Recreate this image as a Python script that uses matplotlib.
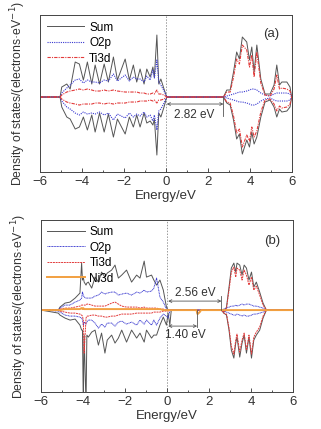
import numpy as np
import matplotlib
matplotlib.use("Agg")
import matplotlib.pyplot as plt
from matplotlib.ticker import MultipleLocator

plt.rcParams['font.family'] = ['Liberation Sans', 'DejaVu Sans']

# ---------------- panel (a) ----------------
a_vb_E = [-5.05, -4.97, -4.73, -4.57, -4.33, -4.13, -3.94, -3.75, -3.54, -3.38, -3.17, -2.95, -2.75, -2.51, -2.32,
          -1.95, -1.75, -1.56, -1.40, -1.24, -1.05, -0.92, -0.76, -0.63, -0.56, -0.44, -0.35, -0.25, -0.10, 0.03]
a_sum_up_vb = [0, 10, 13, 8, 35, 33, 17, 35, 13, 32, 13, 33, 15, 40, 17, 38, 17, 32, 15, 28, 13, 28, 20, 30, 20, 62, 13, 18, 8, 0]
a_sum_dn_vb = [0, -10, -20, -22, -32, -30, -20, -33, -18, -35, -16, -35, -17, -40, -22, -37, -20, -30, -18, -30, -16, -26, -24, -28, -22, -58, -16, -20, -10, 0]
a_o2p_up_vb = [0, 4, 9, 12, 17, 18, 14, 17, 15, 15, 14, 17, 16, 23, 16, 22, 16, 20, 18, 18, 15, 21, 17, 27, 19, 37, 15, 12, 6, 0]
a_o2p_dn_vb = [0, -4, -10, -12, -16, -18, -15, -17, -16, -17, -15, -18, -16, -23, -17, -21, -16, -20, -17, -19, -15, -20, -18, -24, -18, -33, -14, -12, -6, 0]
a_ti_up_vb = [0, 2, 5, 6, 7, 8, 7, 8, 7, 6, 6, 7, 6, 7, 6, 5, 5, 5, 5, 4, 4, 3, 3, 4, 3, 7, 3, 3, 2, 0]
a_ti_dn_vb = [0, -2, -5, -6, -7, -8, -7, -7, -7, -6, -6, -7, -6, -7, -6, -6, -5, -5, -5, -4, -4, -4, -3, -4, -3, -6, -3, -3, -2, 0]

a_cb_E = [2.73, 2.89, 3.05, 3.21, 3.36, 3.49, 3.63, 3.84, 3.97, 4.08, 4.19, 4.32, 4.51, 4.71, 4.95,
          5.14, 5.27, 5.40, 5.51, 5.75, 5.90, 5.98]
a_sum_up_cb = [0, 7, 7, 25, 45, 38, 60, 55, 37, 50, 25, 52, 18, 3, 3, 12, 32, 12, 15, 15, 10, 0]
a_sum_dn_cb = [0, -6, -8, -23, -42, -37, -57, -43, -50, -35, -47, -40, -20, -5, -3, -10, -20, -12, -15, -14, -10, 0]
a_ti_up_cb = [0, 5, 5, 20, 38, 33, 52, 47, 30, 42, 20, 45, 14, 2, 1, 8, 22, 8, 9, 8, 6, 0]
a_ti_dn_cb = [0, -5, -6, -19, -36, -32, -50, -38, -44, -30, -40, -34, -15, -3, -2, -7, -14, -9, -11, -10, -7, 0]
a_o2p_up_cb = [0, 1, 2, 3, 4, 5, 5, 6, 7, 8, 8, 7, 4, 2, 1, 3, 4, 4, 4, 4, 3, 0]
a_o2p_dn_cb = [0, -1, -2, -3, -4, -5, -5, -6, -7, -8, -8, -7, -4, -2, -1, -3, -4, -4, -4, -4, -3, 0]

# ---------------- panel (b) ----------------
b_vb_E = [-5.18, -5.10, -4.86, -4.62, -4.38, -4.15, -4.07, -4.03, -3.99, -3.95, -3.86, -3.82, -3.75, -3.59, -3.43,
          -3.27, -3.12, -2.96, -2.85, -2.64, -2.48, -2.32, -2.16, -1.93, -1.69, -1.45, -1.29, -1.09, -0.98, -0.74,
          -0.63, -0.50, -0.34, -0.18, -0.03, 0.05, 0.13, 0.20]
b_sum_up_vb = [0, 3, 7, 8, 12, 17, 47, 30, 33, 28, 25, 27, 28, 22, 33, 28, 38, 33, 37, 40, 45, 32, 35, 40, 28, 35, 32,
               49, 33, 35, 30, 25, 30, 20, 3, 0, 0, 0]
b_sum_dn_vb = [-3, -5, -8, -10, -9, -15, -20, -20, -95, -25, -95, -25, -27, -22, -20, -35, -23, -43, -30, -25, -33, -28,
               -20, -32, -20, -28, -23, -32, -20, -28, -25, -25, -15, -7, -15, -3, -15, 0]
b_o2p_up_vb = [0, 2, 5, 5, 8, 10, 12, 18, 15, 13, 12, 12, 12, 12, 14, 15, 18, 16, 17, 18, 18, 15, 16, 17, 15, 18, 17,
               20, 18, 19, 22, 32, 13, 8, 1, 0, 0, 0]
b_o2p_dn_vb = [-1, -2, -5, -6, -6, -7, -8, -10, -15, -12, -14, -12, -10, -10, -13, -18, -14, -17, -13, -13, -16, -12,
               -11, -14, -12, -15, -10, -14, -10, -15, -10, -15, -8, -4, -6, -8, -1, 0]
b_ti_up_vb = [0, 1, 2, 2, 3, 4, 5, 5, 5, 5, 5, 6, 6, 5, 4, 4, 4, 4, 5, 7, 8, 6, 4, 3, 3, 3, 2, 3, 2, 2, 2, 2, 1, 1, 0, 0, 0, 0]
b_ti_dn_vb = [0, -1, -2, -3, -3, -4, -5, -6, -10, -43, -8, -6, -6, -5, -5, -6, -6, -7, -7, -6, -6, -5, -4, -4, -4, -3,
              -3, -3, -3, -3, -2, -2, -2, -1, -1, -1, 0, 0]
b_ni_vb = [0, 0, 1, 1, 1, 1, 2, 1, 2, 1, 1, 1, 1, 1, 1, 1, 1, 1, 1, 1, 1, 1, 1, 1, 1, 1, 1, 1, 1, 1, 1, 1, 1, 0, 0, 0, 0, 0]

b_gap_E = [1.40, 1.45, 1.55, 1.62]
b_gap_dn = [0, -4, -2, 0]

b_cb_E = [2.59, 2.70, 2.83, 2.95, 3.06, 3.18, 3.27, 3.33, 3.46, 3.57, 3.67, 3.78, 3.90, 4.02, 4.13, 4.25, 4.41, 4.57, 4.73]
b_sum_up_cb = [0, -2, 3, 23, 42, 47, 38, 47, 45, 35, 45, 42, 30, 38, 23, 28, 18, 7, 0]
b_sum_dn_cb = [0, -3, -5, -20, -40, -48, -33, -27, -47, -33, -25, -43, -27, -48, -30, -25, -20, -8, 0]
b_ti_up_cb = [0, -2, 2, 20, 38, 43, 33, 42, 40, 30, 40, 35, 25, 33, 20, 24, 15, 5, 0]
b_ti_dn_cb = [0, -3, -4, -18, -36, -44, -30, -24, -42, -30, -23, -40, -25, -44, -27, -22, -17, -6, 0]
b_o2p_up_cb = [0, 1, 2, 3, 4, 4, 5, 4, 5, 6, 5, 6, 6, 5, 4, 4, 3, 2, 0]
b_o2p_dn_cb = [0, -1, -2, -3, -4, -5, -5, -4, -5, -6, -5, -6, -6, -5, -4, -4, -3, -2, 0]

C_SUM = '#555555'
C_O2P = '#3a3ad0'
C_TI = '#e23a3a'
C_NI = '#f2a040'


def full(parts_E, parts_v):
    E = np.concatenate([[-6.0]] + [np.asarray(p, float) for p in parts_E] + [[6.0]])
    v = np.concatenate([[0.0]] + [np.asarray(p, float) for p in parts_v] + [[0.0]])
    return E, v


def style(ax, ylim, tag):
    ax.set_xlim(-6, 6)
    ax.set_ylim(*ylim)
    ax.xaxis.set_major_locator(MultipleLocator(2))
    ax.xaxis.set_minor_locator(MultipleLocator(1))
    ax.tick_params(axis='x', which='both', direction='in', labelsize=9.5, colors='#333333', width=0.6, pad=3)
    ax.tick_params(axis='x', which='major', length=3)
    ax.tick_params(axis='x', which='minor', length=1.8)
    ax.set_yticks([])
    for s in ax.spines.values():
        s.set_color('#444444')
        s.set_linewidth(0.7)
    ax.axvline(0, color='#999999', ls=(0, (1.5, 1.5)), lw=0.7, zorder=0)
    ax.set_xlabel('Energy/eV', fontsize=9.5, color='#333333', labelpad=1)
    ax.set_ylabel('Density of states/(electrons\u00b7eV$^{-1}$)', fontsize=8.8, color='#333333', labelpad=9)
    ax.text(0.95, 0.88, tag, transform=ax.transAxes, ha='right', va='center', fontsize=9.5, color='#333333')


fig = plt.figure(figsize=(3.21, 4.29), dpi=100)
ax1 = fig.add_axes([0.125, 0.599, 0.785, 0.366])
ax2 = fig.add_axes([0.128, 0.086, 0.785, 0.401])

# panel (a)
for up, dn, col, ls, lw, lab in [
        ((a_sum_up_vb, a_sum_up_cb), (a_sum_dn_vb, a_sum_dn_cb), C_SUM, '-', 0.7, 'Sum'),
        ((a_o2p_up_vb, a_o2p_up_cb), (a_o2p_dn_vb, a_o2p_dn_cb), C_O2P, (0, (1, 1)), 0.8, 'O2p'),
        ((a_ti_up_vb, a_ti_up_cb), (a_ti_dn_vb, a_ti_dn_cb), C_TI, (0, (3, 1, 1, 1)), 0.8, 'Ti3d')]:
    E, v = full([a_vb_E, a_cb_E], up)
    ax1.plot(E, v, color=col, ls=ls, lw=lw, label=lab)
    E, v = full([a_vb_E, a_cb_E], dn)
    ax1.plot(E, v, color=col, ls=ls, lw=lw)
style(ax1, (-75, 82), '(a)')
ax1.legend(loc='upper left', frameon=False, fontsize=8.5, handlelength=3.2, handletextpad=0.4,
           borderaxespad=0.15, labelspacing=0.3)
ax1.annotate('', xy=(0.03, -7), xytext=(2.73, -7),
             arrowprops=dict(arrowstyle='<->', color='#555555', lw=0.6, mutation_scale=5, shrinkA=0, shrinkB=0))
ax1.plot([2.73, 2.73], [0, -19], color='#555555', lw=0.6)
ax1.text(1.35, -12, '2.82 eV', ha='center', va='top', fontsize=8.5, color='#333333')

# panel (b)
zeros_gap = [0] * len(b_gap_E)
for up, dn, col, ls, lw, lab in [
        ((b_sum_up_vb, zeros_gap, b_sum_up_cb), (b_sum_dn_vb, b_gap_dn, b_sum_dn_cb), C_SUM, '-', 0.7, 'Sum'),
        ((b_o2p_up_vb, zeros_gap, b_o2p_up_cb), (b_o2p_dn_vb, zeros_gap, b_o2p_dn_cb), C_O2P, (0, (1, 0.6)), 0.7, 'O2p'),
        ((b_ti_up_vb, zeros_gap, b_ti_up_cb), (b_ti_dn_vb, b_gap_dn, b_ti_dn_cb), C_TI, (0, (2, 0.8)), 0.7, 'Ti3d')]:
    E, v = full([b_vb_E, b_gap_E, b_cb_E], up)
    ax2.plot(E, v, color=col, ls=ls, lw=lw, label=lab)
    E, v = full([b_vb_E, b_gap_E, b_cb_E], dn)
    ax2.plot(E, v, color=col, ls=ls, lw=lw)
E, v = full([b_vb_E, b_gap_E, b_cb_E], [b_ni_vb, b_gap_dn, [0] * len(b_cb_E)])
ax2.plot(E, v, color=C_NI, lw=1.4, label='Ni3d')
style(ax2, (-82, 90), '(b)')
ax2.legend(loc='upper left', frameon=False, fontsize=8.5, handlelength=3.2, handletextpad=0.4,
           borderaxespad=0.1, labelspacing=0.3)
ax2.annotate('', xy=(0.05, 9), xytext=(2.59, 9),
             arrowprops=dict(arrowstyle='<->', color='#555555', lw=0.6, mutation_scale=5, shrinkA=0, shrinkB=0))
ax2.plot([2.59, 2.59], [0, 14], color='#555555', lw=0.6)
ax2.text(1.35, 11, '2.56 eV', ha='center', va='bottom', fontsize=8.5, color='#333333')
ax2.annotate('', xy=(0.05, -16), xytext=(1.43, -16),
             arrowprops=dict(arrowstyle='<->', color='#555555', lw=0.6, mutation_scale=5, shrinkA=0, shrinkB=0))
ax2.plot([1.43, 1.43], [0, -17], color='#555555', lw=0.6)
ax2.text(0.85, -19, '1.40 eV', ha='center', va='top', fontsize=8.5, color='#333333')

fig.savefig('out.png', dpi=100)
